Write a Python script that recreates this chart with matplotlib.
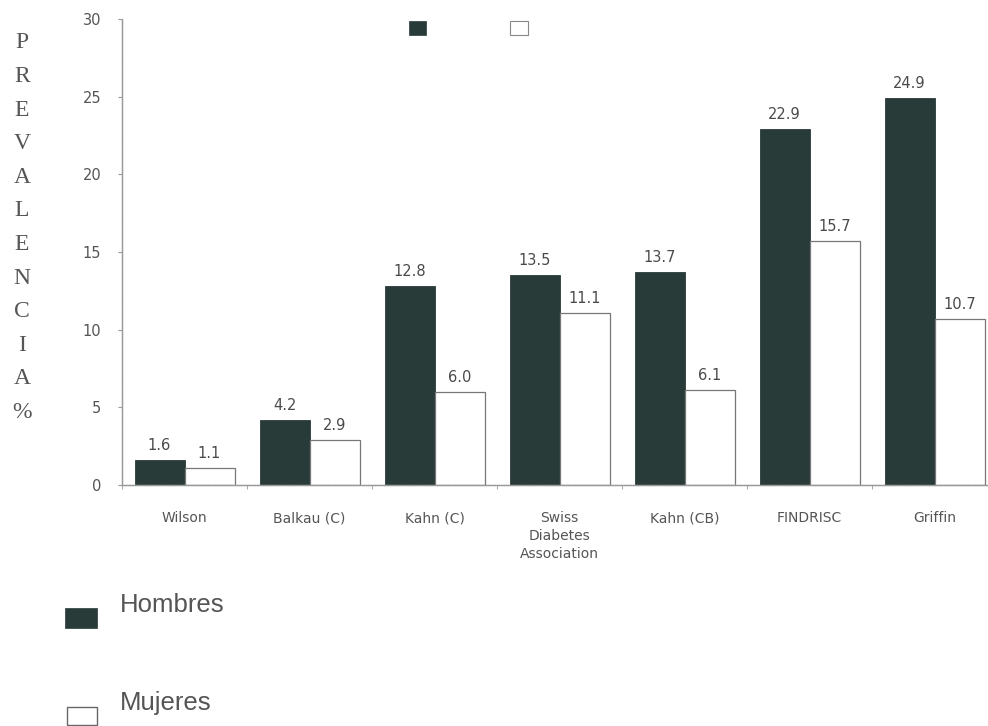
#!/usr/bin/env python3
"""
Prevalence by risk score, men vs women - grouped bars
"""

import numpy as np
import matplotlib.pyplot as plt
from matplotlib.patches import Rectangle

# Data
categorias = ['Wilson', 'Balkau (C)', 'Kahn (C)', 'Swiss\nDiabetes\nAssociation',
              'Kahn (CB)', 'FINDRISC', 'Griffin']
hombres = [1.6, 4.2, 12.8, 13.5, 13.7, 22.9, 24.9]
mujeres = [1.1, 2.9, 6.0, 11.1, 6.1, 15.7, 10.7]
etiqueta_y = ['P', 'R', 'E', 'V', 'A', 'L', 'E', 'N', 'C', 'I', 'A', '%']
series = ['Hombres', 'Mujeres']

DARK = '#283b39'
GRAY = '#555555'

fig = plt.figure(figsize=(9.88, 7.26), dpi=100)
ax = fig.add_axes([122 / 988, 1 - 485 / 726, 875 / 988, 466 / 726])

x = np.arange(len(categorias))
w = 0.4
b1 = ax.bar(x - w / 2, hombres, w, color=DARK, edgecolor=DARK, linewidth=0.6)
b2 = ax.bar(x + w / 2, mujeres, w, color='white', edgecolor='#777777', linewidth=0.9)

for bars, vals in [(b1, hombres), (b2, mujeres)]:
    for rect, v in zip(bars, vals):
        ax.annotate(f'{v:.1f}', (rect.get_x() + rect.get_width() / 2, v),
                    xytext=(0, 5), textcoords='offset points',
                    ha='center', va='bottom', fontsize=10.5, color='#4a4a4a')

ax.set_xlim(-0.5, len(categorias) - 0.5)
ax.set_ylim(0, 30)
ax.set_yticks(range(0, 31, 5))
ax.set_xticks(x)
ax.set_xticklabels(categorias, fontsize=10, color=GRAY, linespacing=1.35)
ax.set_xticks(np.arange(len(categorias) + 1) - 0.5, minor=True)
ax.tick_params(axis='x', which='major', length=0, pad=19)
ax.tick_params(axis='x', which='minor', length=3, color='#999999', direction='out')
ax.tick_params(axis='y', labelsize=10.5, labelcolor=GRAY, color='#999999',
               length=3, pad=12)

for side in ['top', 'right']:
    ax.spines[side].set_visible(False)
for side in ['left', 'bottom']:
    ax.spines[side].set_color('#999999')
    ax.spines[side].set_linewidth(1.0)
    ax.spines[side].set_linestyle((0, (1, 0.6)))

# Vertical stacked y label
for i, ch in enumerate(etiqueta_y):
    fig.text(22 / 988, 1 - (43 + i * 33.6) / 726, ch, fontsize=17,
             family='Liberation Serif', color=GRAY, ha='center', va='center')

# Small unlabeled legend at the top
fig.patches.append(Rectangle((409 / 988, 1 - 35 / 726), 17 / 988, 14 / 726,
                             transform=fig.transFigure, facecolor=DARK,
                             edgecolor=DARK, linewidth=0.5))
fig.patches.append(Rectangle((510 / 988, 1 - 35 / 726), 18 / 988, 14 / 726,
                             transform=fig.transFigure, facecolor='white',
                             edgecolor='#888888', linewidth=0.8))

# Bottom legend
fig.patches.append(Rectangle((65 / 988, 1 - 628 / 726), 32 / 988, 20 / 726,
                             transform=fig.transFigure, facecolor=DARK,
                             edgecolor=DARK, linewidth=0.5))
fig.patches.append(Rectangle((67 / 988, 1 - 725 / 726), 30 / 988, 18 / 726,
                             transform=fig.transFigure, facecolor='white',
                             edgecolor='#666666', linewidth=1.0))
fig.text(120 / 988, 1 - 605 / 726, series[0], fontsize=18.5,
         family='Liberation Sans', color=GRAY, va='center')
fig.text(120 / 988, 1 - 703 / 726, series[1], fontsize=18.5,
         family='Liberation Sans', color=GRAY, va='center')

plt.savefig('out.png', dpi=100)
plt.close()
